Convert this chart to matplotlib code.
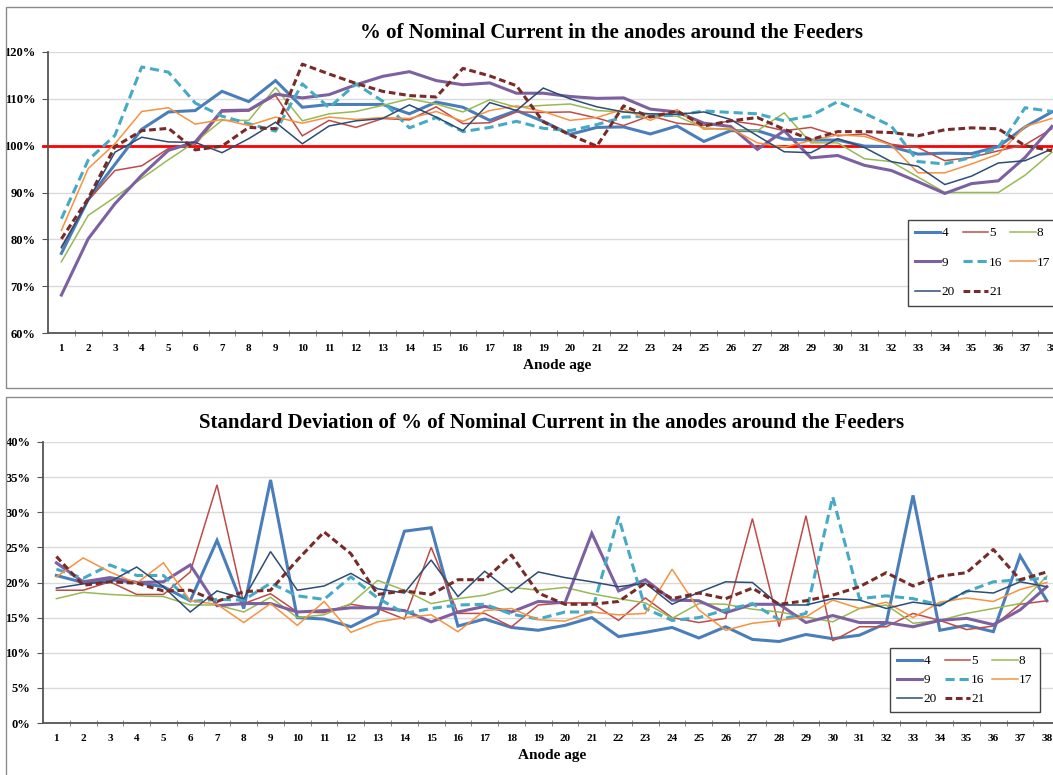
import matplotlib
matplotlib.use("Agg")
import matplotlib.pyplot as plt
from matplotlib.patches import Rectangle
from matplotlib.ticker import FixedLocator, FuncFormatter

plt.rcParams['font.family'] = ['Liberation Serif', 'DejaVu Serif']

# anode age categories
ages = list(range(1, 39))

# mean % of nominal current, per feeder
mean_4 = [77.0, 88.5, 96.0, 103.5, 107.2, 107.5, 111.6, 109.4, 113.9, 108.2, 108.8, 108.8, 108.8, 106.8, 109.3, 108.2, 105.4, 107.5, 105.2,
          102.4, 103.9, 104.0, 102.5, 104.2, 100.9, 103.2, 103.2, 101.4, 101.2, 101.2, 99.9, 99.8, 98.2, 98.4, 98.3, 99.8, 104.0, 107.2]
mean_5 = [78.4, 88.3, 94.7, 95.7, 99.4, 100.2, 107.2, 107.4, 110.7, 102.1, 105.4, 103.9, 105.8, 105.5, 108.3, 104.7, 104.9, 107.2, 107.1,
          107.2, 105.9, 104.3, 106.4, 104.8, 104.3, 105.3, 104.5, 103.2, 103.9, 102.1, 102.5, 100.3, 99.6, 96.8, 97.5, 98.9, 100.2, 103.6]
mean_8 = [75.2, 85.1, 89.0, 93.0, 97.0, 100.8, 105.4, 105.4, 112.4, 105.3, 106.8, 107.3, 108.6, 110.0, 108.9, 107.2, 109.8, 108.2, 108.6,
          108.9, 107.5, 107.2, 106.5, 106.3, 103.8, 103.4, 103.2, 107.0, 100.6, 100.6, 97.2, 96.6, 93.3, 90.0, 90.0, 90.0, 93.7, 98.6]
mean_9 = [68.1, 80.1, 87.6, 93.7, 99.0, 100.8, 107.5, 107.6, 111.0, 110.2, 110.9, 113.0, 114.8, 115.8, 113.9, 113.0, 113.4, 111.2, 111.2,
          110.5, 110.1, 110.2, 107.8, 107.2, 104.8, 104.1, 99.2, 103.2, 97.4, 97.9, 95.8, 94.7, 92.3, 89.8, 91.9, 92.5, 97.5, 104.1]
mean_16 = [84.4, 96.9, 102.2, 116.8, 115.7, 109.1, 106.3, 104.7, 103.1, 113.2, 108.1, 113.2, 109.5, 103.8, 106.0, 103.0, 103.9, 105.2, 103.7,
           103.2, 104.5, 106.1, 106.3, 106.5, 107.4, 107.1, 106.8, 105.3, 106.4, 109.4, 106.9, 104.2, 96.6, 96.1, 97.5, 99.6, 108.1, 107.3]
mean_17 = [81.9, 95.1, 100.4, 107.3, 108.1, 104.6, 105.6, 104.3, 106.1, 104.8, 106.1, 105.6, 106.0, 105.8, 107.3, 105.2, 107.5, 108.5, 107.3,
           105.4, 106.0, 107.8, 105.4, 107.7, 103.5, 103.7, 100.6, 99.7, 101.1, 102.3, 102.0, 100.1, 94.2, 94.2, 96.1, 98.2, 104.1, 105.8]
mean_20 = [78.2, 88.3, 98.6, 101.8, 100.8, 100.7, 98.5, 101.5, 105.0, 100.4, 104.2, 105.3, 105.8, 108.7, 106.1, 103.2, 109.2, 107.5, 112.3,
           110.0, 108.3, 107.2, 106.8, 106.7, 107.2, 105.6, 102.1, 98.7, 98.5, 101.5, 99.6, 96.6, 95.6, 91.7, 93.5, 96.3, 96.8, 99.3]
mean_21 = [80.1, 88.7, 99.8, 103.2, 103.7, 99.1, 99.9, 103.9, 103.6, 117.4, 115.3, 113.3, 111.6, 110.7, 110.4, 116.5, 114.9, 112.8, 105.1,
           102.3, 99.9, 108.5, 106.1, 107.4, 104.2, 105.3, 106.0, 103.5, 101.3, 103.0, 103.0, 102.8, 102.1, 103.4, 103.8, 103.6, 100.0, 98.9]

# standard deviation of % of nominal current, per feeder
sd_4 = [21.0, 20.0, 20.4, 20.0, 19.4, 17.4, 26.0, 16.3, 34.6, 15.0, 14.8, 13.7, 15.6, 27.3, 27.8, 13.8, 14.8, 13.6, 13.2,
        13.9, 15.0, 12.3, 12.9, 13.6, 12.1, 13.7, 11.9, 11.6, 12.6, 12.0, 12.5, 14.2, 32.4, 13.2, 13.9, 13.0, 23.8, 17.4]
sd_5 = [18.9, 18.9, 20.1, 18.3, 18.3, 21.5, 33.9, 17.0, 18.4, 15.8, 15.7, 16.9, 16.3, 14.8, 25.0, 15.6, 15.6, 13.7, 16.8,
        17.1, 17.1, 14.6, 17.8, 15.0, 14.3, 14.9, 29.1, 13.7, 29.5, 11.7, 13.7, 13.7, 15.6, 14.6, 13.3, 13.8, 16.9, 17.4]
sd_8 = [17.7, 18.6, 18.3, 18.1, 18.0, 16.8, 16.8, 15.8, 17.9, 15.0, 15.4, 17.0, 20.3, 18.9, 17.0, 17.7, 18.2, 19.3, 18.9,
        19.3, 18.4, 17.7, 17.1, 14.9, 17.0, 16.9, 16.2, 15.8, 15.1, 14.4, 16.3, 16.8, 14.2, 14.6, 15.6, 16.3, 17.0, 20.9]
sd_9 = [22.8, 20.1, 20.7, 20.0, 20.1, 22.5, 16.7, 17.0, 17.0, 15.8, 16.0, 16.4, 16.4, 16.0, 14.4, 15.8, 16.6, 15.8, 17.3,
        17.1, 27.0, 18.8, 20.4, 17.5, 17.4, 15.7, 16.9, 16.9, 14.3, 15.3, 14.3, 14.3, 13.7, 14.6, 14.9, 14.0, 16.1, 19.4]
sd_16 = [21.9, 20.6, 22.5, 21.0, 21.0, 17.3, 17.6, 17.5, 19.9, 18.1, 17.6, 20.8, 17.8, 15.6, 16.3, 16.8, 16.9, 15.5, 14.8,
         15.8, 15.8, 29.3, 16.3, 14.6, 15.0, 16.1, 17.0, 14.7, 15.6, 32.2, 17.7, 18.1, 17.7, 16.8, 18.7, 20.1, 20.4, 20.6]
sd_17 = [20.8, 23.5, 21.5, 19.9, 22.8, 17.4, 16.9, 14.3, 17.0, 13.9, 17.3, 12.9, 14.4, 15.0, 15.4, 13.0, 16.0, 16.3, 14.7,
         14.5, 15.8, 15.4, 15.6, 21.9, 16.1, 13.2, 14.2, 14.6, 15.1, 17.5, 16.3, 17.2, 15.0, 17.2, 17.8, 17.3, 19.0, 20.0]
sd_20 = [19.2, 19.8, 20.1, 22.2, 19.4, 15.8, 18.8, 17.7, 24.4, 18.9, 19.5, 21.3, 19.1, 18.5, 23.2, 18.0, 21.6, 18.6, 21.5,
         20.7, 20.1, 19.4, 19.9, 16.9, 18.6, 20.1, 20.0, 16.8, 16.8, 17.7, 17.5, 16.3, 17.2, 16.7, 18.8, 18.5, 20.1, 19.4]
sd_21 = [23.7, 19.6, 20.1, 19.9, 18.8, 18.9, 17.3, 18.7, 18.9, 23.2, 27.2, 24.1, 18.3, 18.8, 18.3, 20.4, 20.4, 23.9, 18.5,
         16.9, 16.9, 17.3, 19.9, 17.7, 18.5, 17.7, 19.2, 16.9, 17.4, 18.2, 19.4, 21.4, 19.5, 20.9, 21.4, 24.7, 20.4, 21.5]

feeders = ['4', '5', '8', '9', '16', '17', '20', '21']
means = [mean_4, mean_5, mean_8, mean_9, mean_16, mean_17, mean_20, mean_21]
sds = [sd_4, sd_5, sd_8, sd_9, sd_16, sd_17, sd_20, sd_21]

styles = {
    '4':  dict(color='#4A7EBB', lw=2.2),
    '5':  dict(color='#BE4B48', lw=1.1),
    '8':  dict(color='#98B954', lw=1.1),
    '9':  dict(color='#7D60A0', lw=2.2),
    '16': dict(color='#46AAC5', lw=2.2, dashes=(3, 1.6)),
    '17': dict(color='#F69240', lw=1.1),
    '20': dict(color='#2C4D75', lw=1.1),
    '21': dict(color='#772C2A', lw=2.2, dashes=(2.2, 1.2)),
}

W, H = 1053, 775
fig = plt.figure(figsize=(W / 100, H / 100), dpi=100)

# chart-area frames
for (x0, y0, x1, y1) in [(6, 7, 1060, 388), (6, 397, 1060, 790)]:
    fig.patches.append(Rectangle((x0 / W, 1 - y1 / H), (x1 - x0) / W, (y1 - y0) / H,
                                 transform=fig.transFigure, fill=False, ec='#8C8C8C', lw=1.0))

step = 26.77
ax1 = fig.add_axes([48 / W, 1 - 333 / H, 38 * step / W, (333 - 52) / H])
ax2 = fig.add_axes([43 / W, 1 - 723 / H, 38 * step / W, (723 - 442) / H])


def style_axes(ax, ylim, yticks):
    ax.set_xlim(0.5, 38.5)
    ax.set_ylim(*ylim)
    ax.set_yticks(yticks)
    ax.yaxis.set_major_formatter(FuncFormatter(lambda v, p: '%d%%' % round(v)))
    ax.set_xticks(ages)
    ax.set_xticklabels([str(a) for a in ages])
    ax.xaxis.set_minor_locator(FixedLocator([a + 0.5 for a in ages]))
    for s in ['top', 'right']:
        ax.spines[s].set_visible(False)
    for s in ['left', 'bottom']:
        ax.spines[s].set_color('#555555')
        ax.spines[s].set_linewidth(1.3)
    ax.tick_params(axis='x', which='major', length=0, pad=8, labelsize=8)
    ax.tick_params(axis='x', which='minor', length=5, direction='inout', color='#777777')
    ax.tick_params(axis='y', which='major', length=4, direction='out', color='#555555', pad=5, labelsize=9)
    for lab in ax.get_xticklabels() + ax.get_yticklabels():
        lab.set_fontweight('bold')
    ax.grid(axis='y', color='#DADADA', lw=1.0)
    ax.set_axisbelow(True)
    ax.set_xlabel('Anode age', fontsize=11, fontweight='bold', labelpad=4)


style_axes(ax1, (60, 120), [60, 70, 80, 90, 100, 110, 120])
style_axes(ax2, (0, 40), [0, 5, 10, 15, 20, 25, 30, 35, 40])

ax1.axhline(100, color='#FF0000', lw=2.0, zorder=1, xmin=-0.005, clip_on=False)

handles = {}
for name, m, s in zip(feeders, means, sds):
    st = styles[name]
    kw = dict(color=st['color'], lw=st['lw'], label=name, solid_joinstyle='miter')
    if 'dashes' in st:
        kw['dashes'] = st['dashes']
    ln, = ax1.plot(ages, m, zorder=3, **kw)
    ax2.plot(ages, s, zorder=3, **kw)
    handles[name] = ln

order = ['4', '9', '20', '5', '16', '21', '8', '17']
for ax, anchor, lsp in [(ax1, (908 / W, 1 - 220 / H), 1.3), (ax2, (890 / W, 1 - 648 / H), 0.5)]:
    leg = ax.legend([handles[k] for k in order], order, ncol=3, loc='upper left',
                    bbox_to_anchor=anchor, bbox_transform=fig.transFigure,
                    fontsize=9.5, handlelength=1.9, handletextpad=0.1, columnspacing=0.6,
                    labelspacing=lsp, borderpad=0.55, borderaxespad=0, fancybox=False,
                    framealpha=1, edgecolor='#444444')
    leg.get_frame().set_linewidth(1.0)

fig.text(612 / W, 1 - 33 / H, '% of Nominal Current in the anodes around the Feeders',
         ha='center', va='center', fontsize=15, fontweight='bold')
fig.text(552 / W, 1 - 423 / H, 'Standard Deviation of % of Nominal Current in the anodes around the Feeders',
         ha='center', va='center', fontsize=15, fontweight='bold')

fig.savefig('out.png', dpi=100)
